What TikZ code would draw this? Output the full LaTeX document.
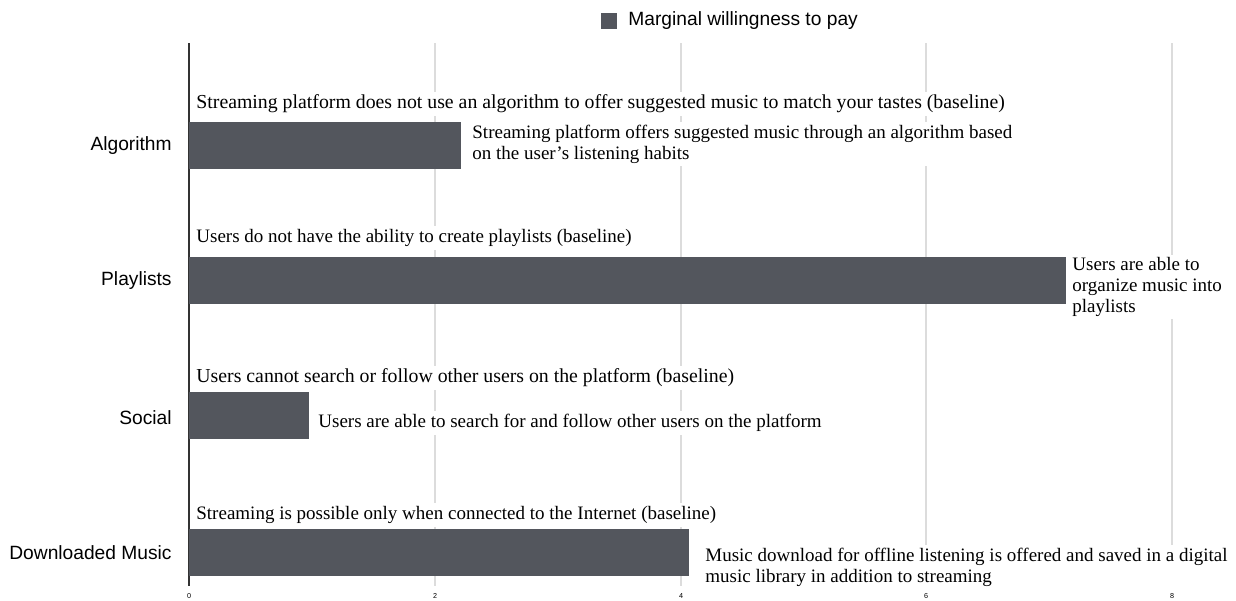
\documentclass[tikz,border=0pt]{standalone}
\usepackage{fontspec}
\setmainfont{Liberation Serif}
\setsansfont{Liberation Sans}
\definecolor{barfill}{HTML}{53565D}
\definecolor{gridgray}{HTML}{DCDCDC}
\tikzset{
  bar/.style={fill=barfill},
  gridline/.style={draw=gridgray, line width=0.7pt},
  catlabel/.style={anchor=east, inner sep=0pt, font=\sffamily\fontsize{9.6}{11}\selectfont},
  note/.style={anchor=west, fill=white, align=left, inner sep=1.5pt, font=\fontsize{9.5}{10.4}\selectfont},
  bignote/.style={note, font=\fontsize{9.9}{10.4}\selectfont},
  ticklabel/.style={inner sep=0pt, font=\sffamily\fontsize{3.6}{4}\selectfont},
}
\begin{document}
\begin{tikzpicture}[x=0.5pt, y=-0.5pt]
\useasboundingbox (0,0) rectangle (1236,600);
% grid and axis
\foreach \gx in {435,681,926,1172}
  \draw[gridline] (\gx,43) -- (\gx,586);
\draw[black!80, line width=0.7pt] (189,43) -- (189,586);
\foreach \v/\gx in {0/189,2/435,4/681,6/926,8/1172}
  \node[ticklabel] (tick\v) at (\gx,596) {\v};
% legend
\node[fill=barfill, minimum size=8pt, inner sep=0pt] (legkey) at (609,21) {};
\node[anchor=west, inner sep=0pt, font=\sffamily\fontsize{9.6}{11}\selectfont] (legtext) at (628,21) {Marginal willingness to pay};
% bars
\fill[bar] (189,122) rectangle (461,169);
\fill[bar] (189,257) rectangle (1066,304);
\fill[bar] (189,392) rectangle (309,439);
\fill[bar] (189,529) rectangle (689,576);
% categories
\node[catlabel] (cat1) at (172,146) {Algorithm};
\node[catlabel] (cat2) at (172,281) {Playlists};
\node[catlabel] (cat3) at (172,418) {Social};
\node[catlabel] (cat4) at (172,553) {Downloaded Music};
% levels
\node[bignote] (base1) at (193,104) {Streaming platform does not use an algorithm to offer suggested music to match your tastes (baseline)};
\node[note] (alt1) at (469,144) {Streaming platform offers suggested music through an algorithm based\\on the user’s listening habits};
\node[note] (base2) at (193,238) {Users do not have the ability to create playlists (baseline)};
\node[note] (alt2) at (1069,287) {Users are able to\\organize music into\\playlists};
\node[bignote] (base3) at (193,378) {Users cannot search or follow other users on the platform (baseline)};
\node[note] (alt3) at (315,423) {Users are able to search for and follow other users on the platform};
\node[note] (base4) at (193,515) {Streaming is possible only when connected to the Internet (baseline)};
\node[note] (alt4) at (702,567) {Music download for offline listening is offered and saved in a digital\\music library in addition to streaming};
\end{tikzpicture}
\end{document}
